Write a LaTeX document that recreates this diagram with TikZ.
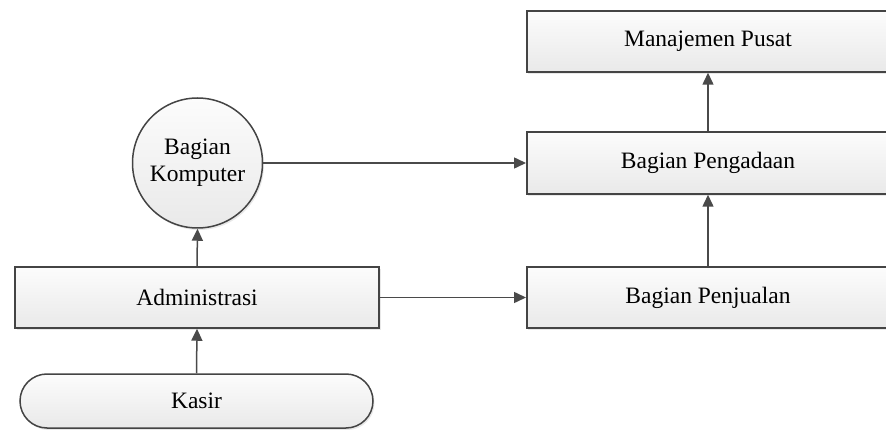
\documentclass[tikz,border=0pt]{standalone}
\usepackage{fontspec}
\setmainfont{Liberation Serif}
\usetikzlibrary{arrows.meta,shadows,shapes.misc}
\definecolor{edge}{HTML}{444444}
\definecolor{arr}{HTML}{4A4A4A}
\definecolor{boxtop}{HTML}{FCFCFC}
\definecolor{boxbot}{HTML}{E9E9E9}
\tikzset{
  lbl/.style={font=\fontsize{23.5}{26}\selectfont},
  unitbox/.style={draw=edge, line width=1.5pt, top color=boxtop, bottom color=boxbot,
    drop shadow={opacity=0.18, shadow xshift=1.5pt, shadow yshift=-2pt},
    lbl, inner sep=0pt},
  conn/.style={draw=arr, line width=1.5pt, -{Triangle[length=12pt,width=11pt]}}
}
\begin{document}
\begin{tikzpicture}[x=1pt,y=-1pt]
\useasboundingbox (0,0) rectangle (886,430);
\clip (0,0) rectangle (886,430);
% left column
\node[unitbox, circle, minimum size=130pt, align=center] (komp) at (197.5,163) {Bagian\\[1pt]Komputer};
\node[unitbox, rectangle, minimum width=364pt, minimum height=61pt] (adm) at (197,297.5) {Administrasi};
\node[unitbox, rounded rectangle, minimum width=353pt, minimum height=54pt] (kasir) at (196.5,401) {Kasir};
% right column
\node[unitbox, rectangle, minimum width=368pt, minimum height=61pt, anchor=west] (man) at (526,41.5) {};
\node[unitbox, rectangle, minimum width=368pt, minimum height=62pt, anchor=west] (peng) at (526,163) {};
\node[unitbox, rectangle, minimum width=368pt, minimum height=61pt, anchor=west] (penj) at (526,297.5) {};
\node[lbl] (manT) at (708,41.5) {Manajemen Pusat};
\node[lbl] (pengT) at (708,163) {Bagian Pengadaan};
\node[lbl] (penjT) at (708,297.5) {Bagian Penjualan};
% connectors
\draw[conn] (kasir.north) -- (adm.south);
\draw[conn] (adm.north) -- (komp.south);
\draw[conn] (komp.east) -- (peng.west);
\draw[conn] (adm.east) -- (penj.west);
\draw[conn] (penj.north -| penjT) -- (peng.south -| pengT);
\draw[conn] (peng.north -| pengT) -- (man.south -| manT);
\end{tikzpicture}
\end{document}
